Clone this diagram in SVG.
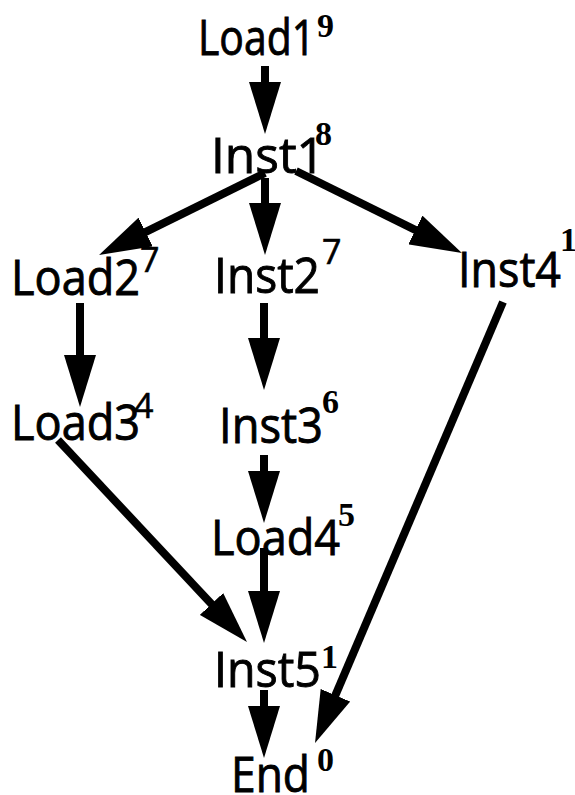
<svg xmlns="http://www.w3.org/2000/svg" width="575" height="795" viewBox="0 0 575 795">
<defs>
<marker id="ah" markerUnits="userSpaceOnUse" markerWidth="52" markerHeight="32" refX="10" refY="16" orient="auto">
<path d="M0,0 L52,16 L0,32 z" fill="#000"/>
</marker>
<style>
.lbl{font-family:"Open Sans","DejaVu Sans",sans-serif;font-size:50px;font-weight:500;fill:#000;stroke:#000;stroke-width:0.9px}
.sup{font-family:"Liberation Serif","Times New Roman",serif;font-weight:bold;font-size:34px;fill:#000}
.sups{font-family:"Open Sans","DejaVu Sans",sans-serif;font-weight:500;font-size:34px;fill:#000;stroke:#000;stroke-width:0.6px}
.edge{stroke:#000;stroke-width:8;fill:none;marker-end:url(#ah)}
</style>
</defs>
<rect width="575" height="795" fill="#fff"/>
<g id="edges">
<line class="edge" x1="265" y1="66" x2="265" y2="92"/>
<line class="edge" x1="265" y1="178" x2="265" y2="213"/>
<line class="edge" x1="265" y1="173" x2="136.7" y2="236.4"/>
<line class="edge" x1="296" y1="171" x2="424.3" y2="234.4"/>
<line class="edge" x1="80" y1="303" x2="80" y2="365"/>
<line class="edge" x1="264" y1="303" x2="264" y2="348"/>
<line class="edge" x1="264" y1="455" x2="264" y2="481"/>
<line class="edge" x1="264" y1="548" x2="264" y2="601"/>
<line class="edge" x1="264" y1="690" x2="264" y2="716"/>
<line class="edge" x1="58" y1="440" x2="218.3" y2="611.3"/>
<line class="edge" x1="503" y1="302" x2="331.5" y2="704.4"/>
</g>
<g id="Load1"><text class="lbl" x="198" y="55" textLength="117" lengthAdjust="spacingAndGlyphs">Load1</text><text class="sup" x="317" y="37">9</text></g>
<g id="Inst1"><text class="lbl" x="211" y="173" textLength="114" lengthAdjust="spacingAndGlyphs">Inst1</text><text class="sup" x="315" y="145">8</text></g>
<g id="Load2"><text class="lbl" x="11" y="295" textLength="129" lengthAdjust="spacingAndGlyphs">Load2</text><text class="sups" x="140" y="272">7</text></g>
<g id="Inst2"><text class="lbl" x="214" y="293" textLength="106" lengthAdjust="spacingAndGlyphs">Inst2</text><text class="sups" x="322" y="264">7</text></g>
<g id="Inst4"><text class="lbl" x="458" y="287" textLength="103" lengthAdjust="spacingAndGlyphs">Inst4</text><text class="sup" x="560" y="251">1</text></g>
<g id="Load3"><text class="lbl" x="11" y="440" textLength="129" lengthAdjust="spacingAndGlyphs">Load3</text><text class="sups" x="134" y="418">4</text></g>
<g id="Inst3"><text class="lbl" x="219" y="443" textLength="104" lengthAdjust="spacingAndGlyphs">Inst3</text><text class="sup" x="322" y="413">6</text></g>
<g id="Load4"><text class="lbl" x="211" y="555" textLength="129" lengthAdjust="spacingAndGlyphs">Load4</text><text class="sup" x="338" y="526">5</text></g>
<g id="Inst5"><text class="lbl" x="214" y="687" textLength="107" lengthAdjust="spacingAndGlyphs">Inst5</text><text class="sup" x="321" y="668">1</text></g>
<g id="End"><text class="lbl" x="231" y="792" textLength="79" lengthAdjust="spacingAndGlyphs">End</text><text class="sup" x="317" y="771">0</text></g>
</svg>
